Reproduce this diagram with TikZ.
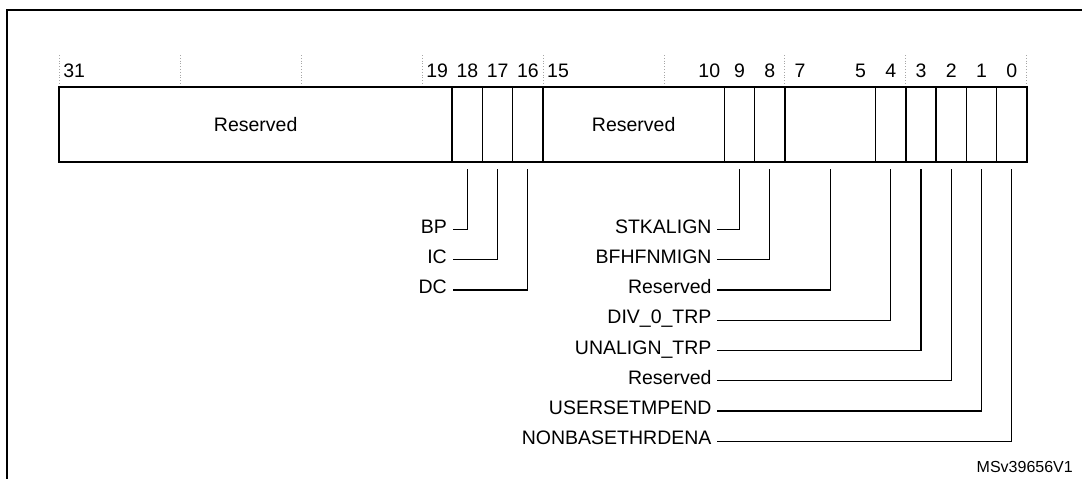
\documentclass[tikz,border=0pt]{standalone}
\usepackage{fontspec}
\setmainfont{Liberation Sans}
\begin{document}
\begin{tikzpicture}[x=1pt,y=-1pt,
  field/.style={draw,line width=1.5pt,rectangle,minimum height=75pt,inner sep=0pt,outer sep=0pt,
    font=\fontsize{19.5}{22}\selectfont},
  bitnum/.style={inner sep=0pt,anchor=base,font=\fontsize{19.5}{22}\selectfont},
  lbl/.style={inner sep=0pt,anchor=east,text height=0.716em,text depth=0pt,font=\fontsize{19.5}{22}\selectfont},
  leader/.style={line width=1.3pt},
  gridline/.style={draw=gray!70,dotted,line width=0.8pt},
  frame/.style={line width=2pt}]
\useasboundingbox (0,0) rectangle (1082,479);
\def\bw{30.24}
\def\xr{1026.8}
% frame
\draw[frame] (7,479) -- (7,10) -- (1082,10);
% dotted grid lines every 4 bits
\foreach \b in {0,4,...,32}{
  \draw[gridline] ({\xr-\bw*\b},55) -- ({\xr-\bw*\b},87);
}
% fields
\newcommand\fld[4]{\node[field,minimum width={(#2-#3)*\bw*1pt}] (#1) at ({\xr-\bw*(#2+#3)/2},124.5) {#4};}
\fld{f31}{32}{19}{Reserved}
\fld{f18}{19}{18}{}
\fld{f17}{18}{17}{}
\fld{f16}{17}{16}{}
\fld{f15}{16}{10}{Reserved}
\fld{f9}{10}{9}{}
\fld{f8}{9}{8}{}
\fld{f7}{8}{5}{}
\fld{f4}{5}{4}{}
\fld{f3}{4}{3}{}
\fld{f2}{3}{2}{}
\fld{f1}{2}{1}{}
\fld{f0}{1}{0}{}
% bit numbers
\foreach \n in {31,19,18,17,16,15,10,9,8,7,5,4,3,2,1,0}{
  \node[bitnum] (b\n) at ({\xr-\bw*(\n+0.5)},77) {\n};
}
% labels
\def\ry#1{229.5+30.25*#1}
\node[lbl] (lBP) at (447,{\ry0}) {BP};
\node[lbl] (lIC) at (447,{\ry1}) {IC};
\node[lbl] (lDC) at (447,{\ry2}) {DC};
\node[lbl] (lSTK) at (711.7,{\ry0}) {STKALIGN};
\node[lbl] (lBFH) at (711.7,{\ry1}) {BFHFNMIGN};
\node[lbl] (lR1) at (711.7,{\ry2}) {Reserved};
\node[lbl] (lDIV) at (711.7,{\ry3}) {DIV\_0\_TRP};
\node[lbl] (lUNA) at (711.7,{\ry4}) {UNALIGN\_TRP};
\node[lbl] (lR2) at (711.7,{\ry5}) {Reserved};
\node[lbl] (lUSR) at (711.7,{\ry6}) {USERSETMPEND};
\node[lbl] (lNON) at (711.7,{\ry7}) {NONBASETHRDENA};
% leaders
\foreach \f/\l in {f18/lBP,f17/lIC,f16/lDC,f9/lSTK,f8/lBFH,f7/lR1,f4/lDIV,f3/lUNA,f2/lR2,f1/lUSR,f0/lNON}{
  \draw[leader] ([yshift=-7pt]\f.south) |- ([xshift=5.5pt]\l.east);
}
\node[inner sep=0pt,anchor=base east,font=\fontsize{16}{19}\selectfont] (id) at (1073,472.5) {MSv39656V1};
\end{tikzpicture}
\end{document}
